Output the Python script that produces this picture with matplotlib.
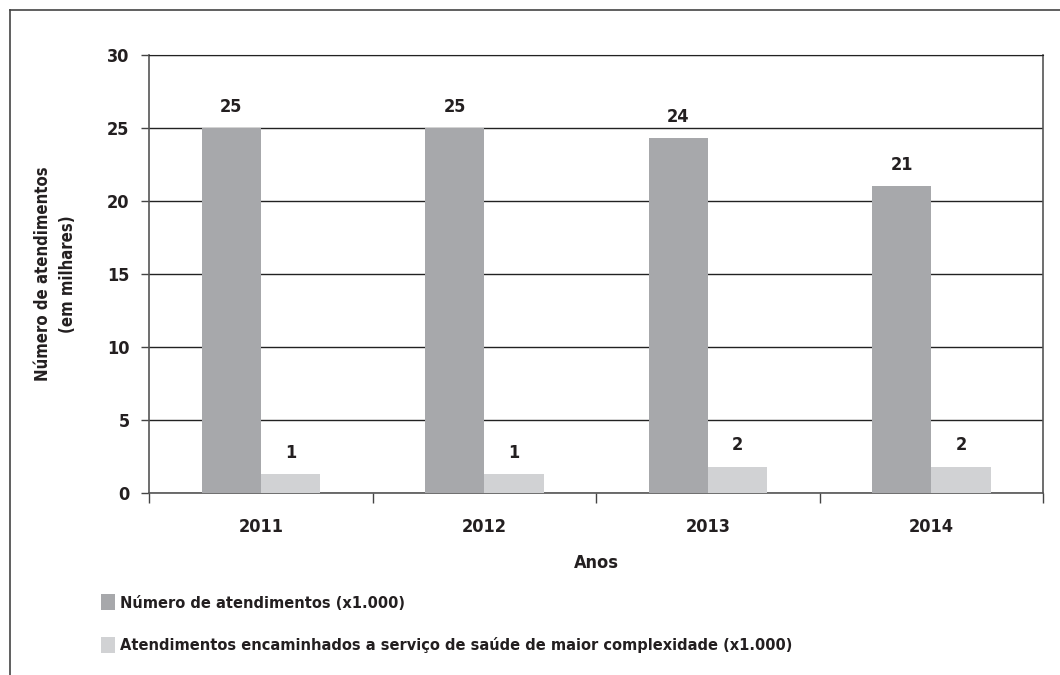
import numpy as np
import matplotlib.pyplot as plt
from matplotlib.patches import Patch
from matplotlib.lines import Line2D

plt.rcParams['font.family'] = ['DejaVu Sans']
plt.rcParams['font.stretch'] = 'condensed'
plt.rcParams['font.weight'] = 'bold'

anos = ['2011', '2012', '2013', '2014']
atendimentos = [25.0, 25.0, 24.3, 21.0]
encaminhados = [1.3, 1.3, 1.8, 1.8]
rotulos_at = ['25', '25', '24', '21']
rotulos_enc = ['1', '1', '2', '2']
serie1 = 'Número de atendimentos (x1.000)'
serie2 = 'Atendimentos encaminhados a serviço de saúde de maior complexidade (x1.000)'

cor1 = '#a7a8ab'
cor2 = '#d1d2d4'
txtcor = '#231f20'

fig = plt.figure(figsize=(10.6, 6.75), dpi=100)
ax = fig.add_axes([0.1406, 0.2696, 0.8434, 0.6489])

x = np.arange(len(anos))
w = 0.265
b1 = ax.bar(x - w/2, atendimentos, w, color=cor1, zorder=3)
b2 = ax.bar(x + w/2, encaminhados, w, color=cor2, zorder=3)

for rect, txt in zip(b1, rotulos_at):
    ax.annotate(txt, (rect.get_x() + rect.get_width()/2, rect.get_height()),
                xytext=(0, 9), textcoords='offset points', ha='center', va='bottom',
                fontsize=13, fontweight='bold', color=txtcor)
for rect, txt in zip(b2, rotulos_enc):
    ax.annotate(txt, (rect.get_x() + rect.get_width()/2, rect.get_height()),
                xytext=(0, 9), textcoords='offset points', ha='center', va='bottom',
                fontsize=13, fontweight='bold', color=txtcor)

ax.set_ylim(0, 30)
ax.set_xlim(-0.5, 3.5)
ax.set_yticks(range(0, 31, 5))
ax.yaxis.grid(True, color='#222222', linewidth=1.0, zorder=0)
ax.set_xticks(x)
ax.set_xticklabels(anos)
ax.set_xticks([-0.5, 0.5, 1.5, 2.5, 3.5], minor=True)
ax.tick_params(axis='x', which='major', length=0, pad=18, labelsize=13)
ax.tick_params(axis='x', which='minor', length=7, width=1, color='#444444', direction='out')
ax.tick_params(axis='y', length=6, width=1, color='#444444', labelsize=13, pad=8)
for lab in ax.get_xticklabels() + ax.get_yticklabels():
    lab.set_fontweight('bold')
    lab.set_color(txtcor)

for s in ['left', 'right', 'bottom']:
    ax.spines[s].set_color('#555555')
    ax.spines[s].set_linewidth(1.2)
ax.spines['top'].set_color('#222222')

ax.set_xlabel('Anos', fontsize=13, fontweight='bold', color=txtcor, labelpad=13)
ax.set_ylabel('Número de atendimentos\n(em milhares)', fontsize=12, fontweight='bold',
              color=txtcor, labelpad=22, linespacing=1.45)

handles = [Patch(facecolor=cor1, edgecolor='none'), Patch(facecolor=cor2, edgecolor='none')]
leg = fig.legend(handles, [serie1, serie2], loc='upper left', bbox_to_anchor=(0.095, 0.12),
                 frameon=False, fontsize=11.7, handlelength=0.85, handleheight=1.15,
                 handletextpad=0.35, labelspacing=1.6, borderpad=0, borderaxespad=0)
for t in leg.get_texts():
    t.set_color(txtcor)
    t.set_fontweight('bold')

# moldura externa
fig.add_artist(Line2D([10/1060, 1.0], [1 - 10/675, 1 - 10/675], transform=fig.transFigure,
                      color='#444444', linewidth=1.2))
fig.add_artist(Line2D([10/1060, 10/1060], [0.0, 1 - 10/675], transform=fig.transFigure,
                      color='#444444', linewidth=1.2))

fig.savefig('out.png', dpi=100)
